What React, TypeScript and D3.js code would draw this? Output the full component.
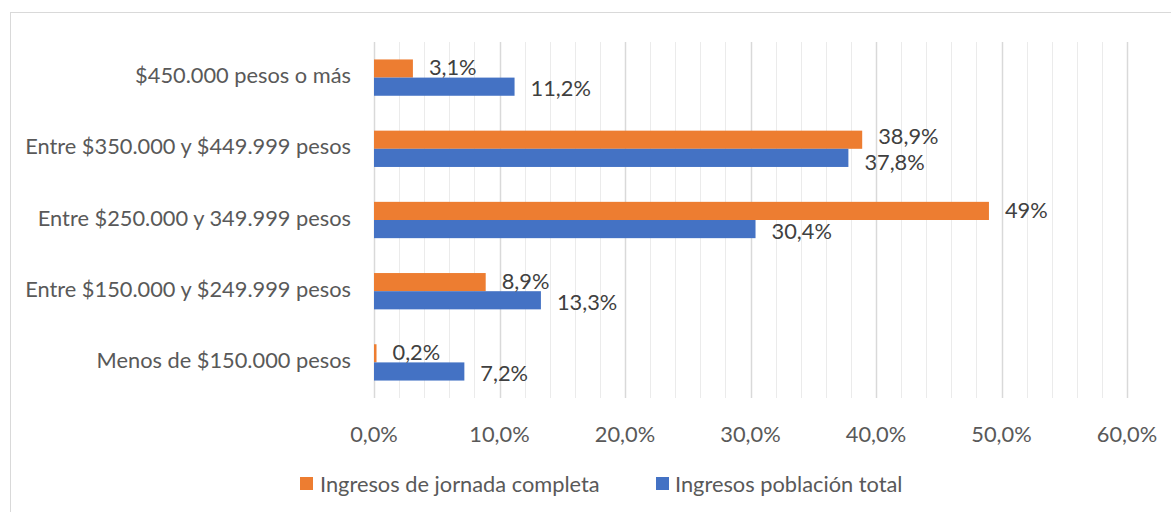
import React from "react";
import * as d3 from "d3";

const categories = [
  "$450.000 pesos o más",
  "Entre $350.000 y $449.999 pesos",
  "Entre $250.000 y 349.999 pesos",
  "Entre $150.000 y $249.999 pesos",
  "Menos de $150.000 pesos",
];
const jornadaCompleta = [3.1, 38.9, 49, 8.9, 0.2];
const jornadaLabels = ["3,1%", "38,9%", "49%", "8,9%", "0,2%"];
const poblacionTotal = [11.2, 37.8, 30.4, 13.3, 7.2];
const poblacionLabels = ["11,2%", "37,8%", "30,4%", "13,3%", "7,2%"];
const seriesNames = ["Ingresos de jornada completa", "Ingresos población total"];
const xTicks = [0, 10, 20, 30, 40, 50, 60];
const minorTicks = d3.range(0, 61, 2);

const width = 1171;
const height = 512;
const margin = { top: 42, right: 44, bottom: 114, left: 374 };
const orange = "#ED7D31";
const blue = "#4472C4";
const textColor = "#595959";
const font = "Lato, 'Open Sans', sans-serif";
const fs = 21.8;

export default function App() {
  const x = d3
    .scaleLinear()
    .domain([0, 60])
    .range([margin.left, width - margin.right]);

  const y = d3
    .scaleBand()
    .domain(categories)
    .range([margin.top, height - margin.bottom])
    .paddingInner(0.49)
    .paddingOuter(0.245);

  const sub = d3
    .scaleBand()
    .domain(["a", "b"])
    .range([0, y.bandwidth()]);

  const plotBottom = height - margin.bottom;

  // labels of the two series sit close together when both bars are long
  const close = (i: number) =>
    Math.abs(jornadaCompleta[i] - poblacionTotal[i]) < 3 ? 2 : 0;

  return (
    <svg
      width={width}
      height={height}
      style={{ position: "absolute", left: 0, top: 0, background: "#fff" }}
      fontFamily={font}
    >
      <rect x={10.5} y={12.5} width={1170} height={520} fill="#fff" stroke="#d9d9d9" />
      <g className="grid">
        {minorTicks.map((t) => (
          <line
            key={t}
            x1={Math.round(x(t)) + 0.5}
            x2={Math.round(x(t)) + 0.5}
            y1={margin.top}
            y2={plotBottom}
            stroke={t % 10 === 0 ? "#d9d9d9" : "#ebebeb"}
            strokeWidth={t % 10 === 0 ? 1.5 : 1}
          />
        ))}
      </g>
      <g className="bars">
        {categories.map((c, i) => {
          const y0 = y(c)!;
          return (
            <g key={c}>
              <rect
                x={x(0)}
                y={y0 + sub("a")!}
                width={x(jornadaCompleta[i]) - x(0)}
                height={sub.bandwidth()}
                fill={orange}
              />
              <rect
                x={x(0)}
                y={y0 + sub("b")!}
                width={x(poblacionTotal[i]) - x(0)}
                height={sub.bandwidth()}
                fill={blue}
              />
              <text
                x={x(jornadaCompleta[i]) + 16}
                y={y0 + sub("a")! + sub.bandwidth() / 2 - 1 - close(i)}
                dy="0.35em"
                fontSize={fs}
                fill="#404040"
              >
                {jornadaLabels[i]}
              </text>
              <text
                x={x(poblacionTotal[i]) + 16}
                y={y0 + sub("b")! + sub.bandwidth() / 2 + 2 + close(i)}
                dy="0.35em"
                fontSize={fs}
                fill="#404040"
              >
                {poblacionLabels[i]}
              </text>
              <text
                x={margin.left - 23}
                y={y0 + y.bandwidth() / 2 - 2}
                dy="0.35em"
                textAnchor="end"
                fontSize={fs}
                fill={textColor}
              >
                {c}
              </text>
            </g>
          );
        })}
      </g>
      <g className="x-axis">
        {xTicks.map((t) => (
          <text
            key={t}
            x={x(t)}
            y={plotBottom + 36}
            dy="0.35em"
            textAnchor="middle"
            fontSize={fs}
            fill={textColor}
          >
            {t.toFixed(1).replace(".", ",") + "%"}
          </text>
        ))}
      </g>
      <g className="legend" fontSize={fs} fill={textColor}>
        <rect x={300} y={477} width={13} height={13} fill={orange} />
        <text x={320} y={484} dy="0.35em">
          {seriesNames[0]}
        </text>
        <rect x={656} y={477} width={13} height={13} fill={blue} />
        <text x={675} y={484} dy="0.35em">
          {seriesNames[1]}
        </text>
      </g>
    </svg>
  );
}
